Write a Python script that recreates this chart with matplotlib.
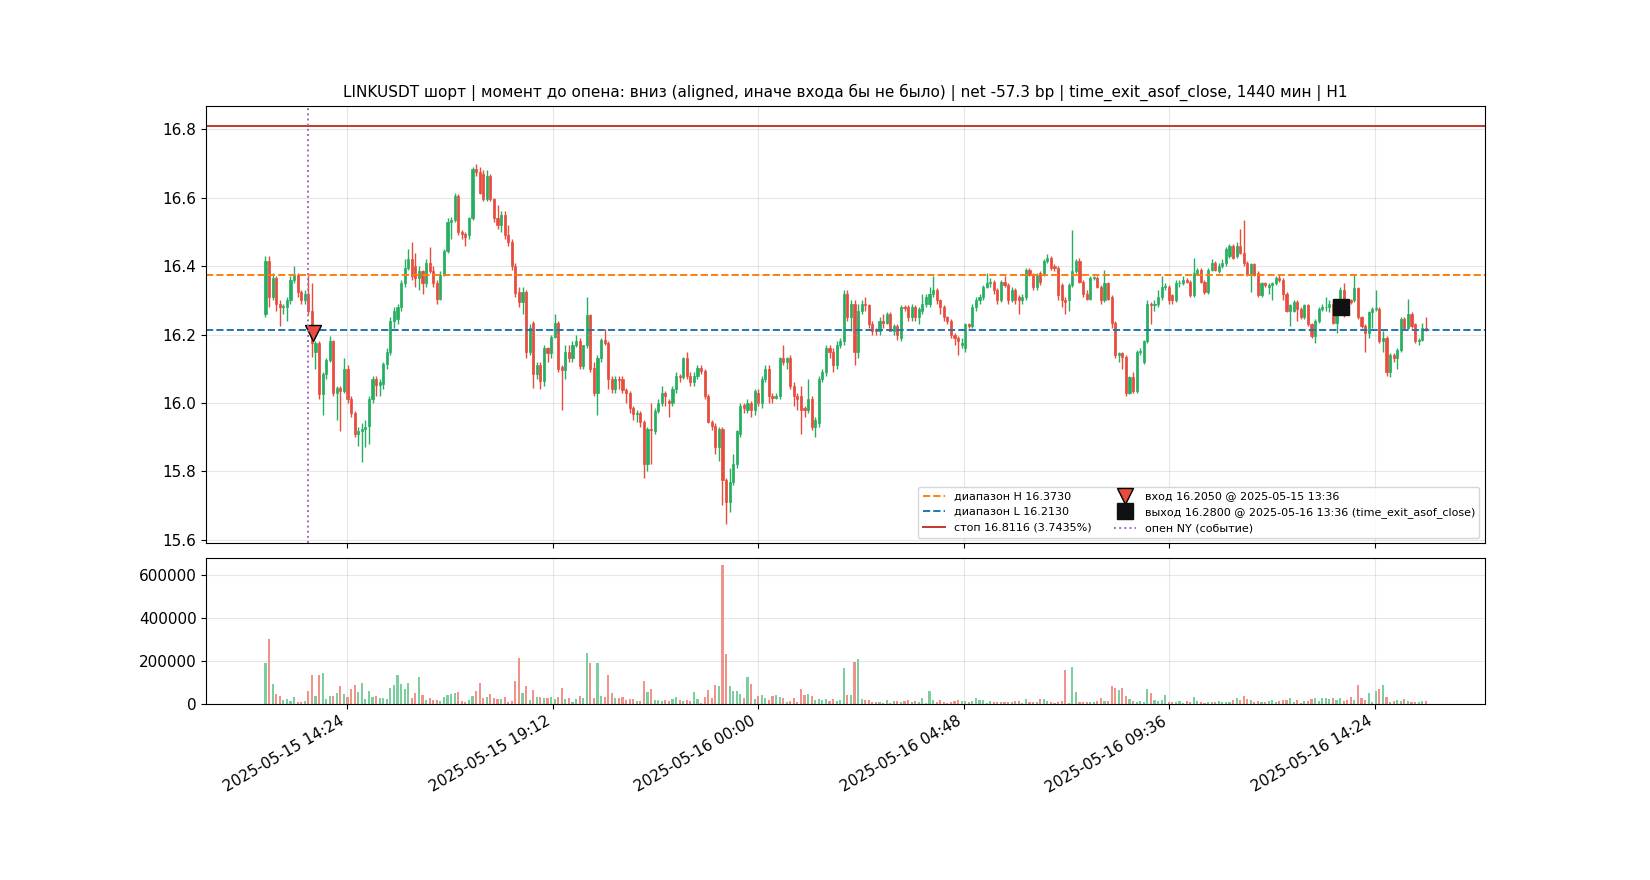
import matplotlib
matplotlib.use("Agg")
import matplotlib.pyplot as plt
import matplotlib.dates as mdates
import numpy as np
import pandas as pd

plt.rcParams["font.size"] = 11

# 5-минутные свечи LINKUSDT, 2025-05-15 12:30 ... 2025-05-16 15:35 (по 12 свечей в строке = 1 час)
OPEN = """
16.26 16.415 16.31 16.365 16.29 16.28 16.28 16.30 16.36 16.375 16.325 16.30
16.32 16.27 16.15 16.175 16.025 16.085 16.125 16.18 16.03 16.045 16.035 16.10
16.01 15.97 15.91 15.917 15.925 15.932 16.012 16.07 16.053 16.054 16.115 16.15
16.24 16.245 16.28 16.35 16.395 16.42 16.40 16.365 16.385 16.35 16.41 16.385
16.35 16.305 16.375 16.445 16.53 16.535 16.605 16.50 16.495 16.49 16.54 16.685
16.675 16.67 16.597 16.665 16.597 16.54 16.52 16.55 16.49 16.47 16.40 16.325
16.295 16.325 16.15 16.235 16.085 16.11 16.065 16.16 16.145 16.193 16.235 16.105
16.095 16.15 16.13 16.17 16.18 16.108 16.168 16.258 16.103 16.03 16.132 16.185
16.176 16.07 16.042 16.07 16.07 16.037 16.03 15.986 15.967 15.97 15.943 15.82
15.925 15.918 15.977 16.0 16.028 16.005 16.0 16.04 16.08 16.075 16.13 16.08
16.06 16.08 16.103 16.093 16.02 15.945 15.933 15.87 15.923 15.773 15.71 15.768
15.82 15.91 15.995 15.98 16.0 15.98 16.03 16.0 16.07 16.10 16.02 16.015
16.02 16.13 16.12 16.13 16.05 16.02 16.02 15.985 15.98 16.01 15.93 15.94
16.07 16.09 16.16 16.15 16.11 16.17 16.18 16.32 16.25 16.29 16.15 16.27
16.29 16.285 16.23 16.215 16.21 16.24 16.235 16.26 16.21 16.225 16.19 16.28
16.28 16.25 16.28 16.25 16.27 16.29 16.29 16.32 16.33 16.30 16.28 16.25
16.24 16.20 16.19 16.17 16.16 16.23 16.225 16.28 16.30 16.31 16.34 16.35
16.355 16.33 16.30 16.355 16.345 16.30 16.33 16.31 16.30 16.31 16.39 16.375
16.34 16.38 16.375 16.415 16.425 16.40 16.395 16.345 16.30 16.30 16.345 16.385
16.415 16.355 16.32 16.305 16.365 16.365 16.34 16.30 16.35 16.31 16.235 16.14
16.145 16.135 16.03 16.075 16.035 16.15 16.12 16.18 16.29 16.285 16.29 16.31
16.34 16.34 16.315 16.30 16.35 16.35 16.36 16.355 16.315 16.38 16.39 16.355
16.325 16.39 16.41 16.385 16.40 16.41 16.43 16.46 16.43 16.46 16.44 16.41
16.375 16.405 16.38 16.315 16.35 16.34 16.345 16.35 16.365 16.36 16.32 16.27
16.27 16.295 16.275 16.25 16.285 16.23 16.195 16.24 16.275 16.28 16.282 16.29
16.235 16.28 16.33 16.30 16.30 16.30 16.335 16.25 16.225 16.205 16.265 16.275
16.275 16.18 16.19 16.09 16.14 16.13 16.155 16.245 16.22 16.26 16.23 16.18
16.185 16.22
"""
CLOSE = """
16.415 16.31 16.365 16.29 16.28 16.283 16.30 16.36 16.375 16.325 16.30 16.32
16.27 16.175 16.175 16.025 16.085 16.125 16.18 16.03 16.045 16.035 16.10 16.01
15.97 15.91 15.917 15.925 15.93 16.012 16.07 16.053 16.06 16.115 16.15 16.24
16.27 16.28 16.35 16.395 16.42 16.37 16.365 16.385 16.35 16.41 16.385 16.35
16.305 16.375 16.445 16.53 16.535 16.605 16.50 16.495 16.485 16.54 16.685 16.675
16.615 16.597 16.665 16.597 16.54 16.52 16.55 16.49 16.47 16.40 16.323 16.295
16.325 16.15 16.22 16.085 16.11 16.065 16.16 16.145 16.193 16.235 16.10 16.095
16.15 16.13 16.17 16.18 16.108 16.168 16.258 16.10 16.03 16.132 16.185 16.176
16.07 16.042 16.07 16.066 16.037 16.03 15.986 15.967 15.97 15.943 15.82 15.925
15.92 15.977 16.0 16.028 16.02 16.0 16.04 16.08 16.075 16.13 16.08 16.06
16.08 16.103 16.093 16.02 15.945 15.933 15.87 15.923 15.773 15.71 15.768 15.82
15.918 15.99 15.985 16.0 15.98 16.035 16.0 16.07 16.10 16.02 16.015 16.02
16.13 16.12 16.13 16.05 16.02 16.01 15.98 15.98 16.01 15.93 15.95 16.07
16.09 16.16 16.15 16.11 16.17 16.18 16.32 16.25 16.29 16.15 16.27 16.29
16.285 16.23 16.21 16.21 16.24 16.235 16.26 16.21 16.225 16.20 16.28 16.277
16.25 16.28 16.25 16.275 16.29 16.31 16.32 16.33 16.30 16.28 16.25 16.24
16.20 16.19 16.18 16.175 16.23 16.225 16.28 16.30 16.31 16.34 16.35 16.355
16.33 16.30 16.355 16.345 16.30 16.33 16.30 16.30 16.31 16.39 16.375 16.34
16.375 16.355 16.415 16.425 16.395 16.395 16.315 16.30 16.295 16.345 16.385 16.415
16.355 16.32 16.305 16.365 16.367 16.34 16.30 16.35 16.305 16.235 16.14 16.145
16.135 16.03 16.075 16.035 16.15 16.152 16.18 16.29 16.285 16.29 16.31 16.34
16.342 16.30 16.30 16.35 16.352 16.36 16.355 16.315 16.38 16.39 16.355 16.325
16.39 16.41 16.39 16.40 16.41 16.45 16.46 16.425 16.46 16.44 16.41 16.375
16.405 16.375 16.315 16.35 16.345 16.345 16.35 16.365 16.36 16.32 16.27 16.285
16.295 16.275 16.25 16.285 16.23 16.195 16.24 16.275 16.28 16.282 16.29 16.235
16.28 16.33 16.30 16.295 16.295 16.335 16.25 16.225 16.205 16.265 16.275 16.277
16.18 16.19 16.09 16.14 16.13 16.155 16.245 16.22 16.26 16.225 16.18 16.185
16.22 16.215
"""
HIGH = """
16.43 16.43 16.38 16.37 16.30 16.29 16.31 16.37 16.40 16.38 16.33 16.33
16.375 16.35 16.18 16.18 16.09 16.13 16.195 16.185 16.05 16.05 16.13 16.11
16.02 15.975 15.93 15.94 15.95 16.02 16.08 16.08 16.07 16.12 16.16 16.25
16.28 16.29 16.36 16.42 16.45 16.47 16.44 16.40 16.39 16.42 16.455 16.40
16.36 16.385 16.45 16.54 16.545 16.615 16.61 16.505 16.50 16.545 16.69 16.70
16.69 16.68 16.68 16.67 16.60 16.58 16.56 16.56 16.52 16.48 16.41 16.34
16.34 16.33 16.23 16.24 16.12 16.12 16.17 16.165 16.20 16.26 16.24 16.11
16.17 16.17 16.18 16.20 16.19 16.17 16.31 16.26 16.12 16.14 16.19 16.215
16.18 16.08 16.08 16.08 16.08 16.045 16.035 15.99 15.98 15.975 15.95 15.93
16.0 15.985 16.01 16.05 16.035 16.01 16.05 16.09 16.085 16.135 16.15 16.09
16.09 16.11 16.11 16.10 16.025 15.95 15.94 15.93 15.93 15.78 15.81 15.85
15.92 16.0 16.0 16.01 16.005 16.04 16.04 16.08 16.11 16.11 16.03 16.03
16.135 16.17 16.135 16.14 16.06 16.03 16.05 15.99 16.07 16.02 15.96 16.08
16.10 16.17 16.17 16.16 16.18 16.19 16.33 16.33 16.30 16.30 16.29 16.30
16.31 16.29 16.24 16.22 16.25 16.26 16.265 16.265 16.23 16.23 16.285 16.285
16.285 16.29 16.285 16.28 16.32 16.32 16.34 16.37 16.335 16.305 16.285 16.255
16.245 16.205 16.195 16.19 16.235 16.235 16.29 16.31 16.32 16.345 16.38 16.365
16.36 16.335 16.36 16.37 16.35 16.34 16.335 16.315 16.32 16.395 16.395 16.38
16.38 16.385 16.42 16.435 16.43 16.405 16.40 16.35 16.31 16.35 16.505 16.42
16.425 16.36 16.33 16.37 16.37 16.37 16.345 16.39 16.355 16.315 16.24 16.15
16.15 16.14 16.08 16.09 16.155 16.16 16.185 16.30 16.295 16.30 16.33 16.37
16.35 16.345 16.32 16.36 16.36 16.37 16.365 16.36 16.425 16.395 16.395 16.36
16.395 16.42 16.415 16.41 16.42 16.455 16.465 16.465 16.47 16.51 16.535 16.415
16.41 16.41 16.385 16.355 16.355 16.35 16.355 16.37 16.375 16.365 16.325 16.29
16.30 16.30 16.28 16.29 16.29 16.235 16.245 16.28 16.29 16.31 16.30 16.30
16.285 16.34 16.35 16.305 16.305 16.377 16.34 16.255 16.23 16.27 16.28 16.33
16.28 16.21 16.195 16.145 16.145 16.16 16.25 16.25 16.305 16.265 16.235 16.19
16.235 16.25
"""
LOW = """
16.25 16.28 16.30 16.27 16.225 16.26 16.24 16.29 16.35 16.31 16.29 16.29
16.26 16.135 16.10 16.01 15.965 16.07 16.12 16.02 15.95 15.917 16.03 16.0
15.96 15.90 15.873 15.826 15.87 15.88 16.0 16.02 16.02 16.04 16.10 16.14
16.22 16.23 16.27 16.34 16.39 16.36 16.34 16.33 16.32 16.34 16.38 16.34
16.29 16.30 16.37 16.44 16.48 16.53 16.49 16.48 16.46 16.48 16.535 16.665
16.61 16.59 16.59 16.59 16.53 16.51 16.50 16.48 16.46 16.39 16.31 16.28
16.26 16.13 16.14 16.045 16.07 16.04 16.05 16.12 16.13 16.19 16.09 15.98
16.07 16.12 16.12 16.165 16.10 16.10 16.16 16.09 16.02 15.964 16.12 16.17
16.04 16.03 16.03 16.04 16.03 16.0 15.97 15.95 15.945 15.93 15.78 15.80
15.82 15.91 15.97 15.99 15.99 15.96 15.99 16.03 16.06 16.07 16.07 16.05
16.05 16.07 16.085 16.01 15.94 15.92 15.85 15.83 15.70 15.647 15.68 15.76
15.81 15.90 15.97 15.97 15.96 15.965 15.99 15.985 16.06 16.0 16.0 16.01
16.01 16.11 16.10 16.04 15.99 15.98 15.91 15.96 15.97 15.92 15.90 15.93
16.06 16.08 16.13 16.09 16.10 16.16 16.17 16.24 16.21 16.11 16.13 16.26
16.27 16.22 16.20 16.20 16.20 16.22 16.23 16.21 16.20 16.185 16.18 16.27
16.24 16.24 16.24 16.23 16.26 16.28 16.28 16.31 16.29 16.26 16.24 16.23
16.19 16.17 16.14 16.16 16.15 16.22 16.22 16.27 16.29 16.30 16.335 16.34
16.32 16.29 16.295 16.34 16.29 16.295 16.29 16.26 16.29 16.30 16.37 16.33
16.33 16.345 16.37 16.41 16.39 16.385 16.30 16.28 16.26 16.27 16.34 16.38
16.35 16.31 16.30 16.30 16.36 16.335 16.29 16.295 16.30 16.22 16.13 16.12
16.10 16.02 16.025 16.03 16.03 16.14 16.115 16.175 16.23 16.27 16.28 16.30
16.33 16.29 16.29 16.295 16.34 16.345 16.35 16.31 16.31 16.375 16.35 16.32
16.32 16.385 16.385 16.38 16.395 16.40 16.425 16.42 16.425 16.435 16.40 16.37
16.325 16.37 16.31 16.31 16.34 16.32 16.30 16.345 16.355 16.30 16.265 16.225
16.265 16.24 16.245 16.245 16.225 16.19 16.175 16.235 16.27 16.27 16.265 16.23
16.205 16.275 16.25 16.29 16.29 16.295 16.245 16.22 16.15 16.19 16.22 16.27
16.175 16.15 16.08 16.075 16.12 16.10 16.15 16.215 16.215 16.22 16.175 16.17
16.18 16.21
"""
# объём, тыс.
VOLUME_K = """
192 304 93 46 37 19 23 14 33 11 11 14
60 135 37 135 144 23 37 37 51 84 46 33
70 88 56 98 23 60 33 37 28 28 23 74
88 135 93 70 98 28 51 126 42 19 28 19
19 14 33 42 46 51 56 14 9 19 37 60
98 28 33 46 28 23 23 33 9 14 107 214
51 84 19 65 33 33 28 28 33 23 33 74
23 28 9 23 37 28 237 191 28 191 37 33
135 51 28 28 33 19 23 23 14 14 107 56
70 19 19 14 19 14 23 33 19 14 19 14
56 23 5 33 65 28 88 84 647 233 84 60
60 46 28 126 93 23 37 42 28 19 37 42
33 28 9 14 28 9 70 42 47 37 19 23
19 23 14 23 14 19 168 42 42 196 210 23
19 19 9 9 9 5 19 5 14 14 9 14
19 9 14 9 28 5 61 19 9 19 9 5
9 14 19 14 14 9 14 28 19 19 5 14
9 9 9 9 9 9 14 14 5 23 9 9
9 23 23 14 9 5 9 14 159 3 173 56
9 9 9 9 9 14 28 14 14 84 75 65
75 37 23 14 9 14 9 70 51 19 14 19
42 9 9 9 14 5 14 9 33 14 9 5
9 9 9 14 9 9 9 19 28 19 37 23
19 9 14 9 9 14 19 9 14 19 19 28
9 19 5 14 14 23 28 14 28 28 23 28
19 28 14 19 33 19 89 28 19 51 9 61
70 89 33 9 14 19 14 23 14 9 9 9
14 14
"""

start = "2025-05-15 12:30"
range_h = 16.3730
range_l = 16.2130
stop = 16.8116
entry_time, entry_px = "2025-05-15 13:36", 16.2050
exit_time, exit_px = "2025-05-16 13:36", 16.2800
ny_open = "2025-05-15 13:30"

o = np.array(OPEN.split(), dtype=float)
c = np.array(CLOSE.split(), dtype=float)
h = np.array(HIGH.split(), dtype=float)
l = np.array(LOW.split(), dtype=float)
v = np.array(VOLUME_K.split(), dtype=float) * 1000

times = pd.date_range(start, periods=len(c), freq="5min")
x = mdates.date2num(times.to_pydatetime())
w = 0.6 * (5 / 1440)

up = c >= o
green, red = "#27ae60", "#e74c3c"
cols = np.where(up, green, red)

fig = plt.figure(figsize=(16.5, 8.8), dpi=100)
gs = fig.add_gridspec(2, 1, height_ratios=[3, 1], hspace=0.05)
ax = fig.add_subplot(gs[0])
axv = fig.add_subplot(gs[1], sharex=ax)

# свечи
ax.vlines(x, l, h, colors=cols, linewidth=1)
ax.bar(x, np.abs(c - o), bottom=np.minimum(o, c), width=w, color=cols,
       edgecolor=cols, linewidth=0.5)

ax.axhline(range_h, color="tab:orange", linestyle="--", linewidth=1.4,
           label=f"диапазон H {range_h:.4f}")
ax.axhline(range_l, color="tab:blue", linestyle="--", linewidth=1.4,
           label=f"диапазон L {range_l:.4f}")
ax.axhline(stop, color="#c0392b", linestyle="-", linewidth=1.4,
           label=f"стоп {stop:.4f} (3.7435%)")

ex = mdates.date2num(pd.Timestamp(entry_time).to_pydatetime())
xx = mdates.date2num(pd.Timestamp(exit_time).to_pydatetime())
ax.plot([ex], [entry_px], marker="v", markersize=12, color="#e74c3c",
        markeredgecolor="black", linestyle="none",
        label=f"вход {entry_px:.4f} @ {entry_time}")
ax.plot([xx], [exit_px], marker="s", markersize=11, color="#111111",
        linestyle="none",
        label=f"выход {exit_px:.4f} @ {exit_time} (time_exit_asof_close)")
ax.axvline(mdates.date2num(pd.Timestamp(ny_open).to_pydatetime()),
           color="#a569bd", linestyle=":", linewidth=1.4,
           label="опен NY (событие)")

ax.grid(alpha=0.3)
ax.legend(loc="lower right", fontsize=8, ncol=2)
ax.set_title("LINKUSDT шорт | момент до опена: вниз (aligned, иначе входа бы не было) | "
             "net -57.3 bp | time_exit_asof_close, 1440 мин | H1", fontsize=11)

# объём
axv.bar(x, v, width=w, color=cols, alpha=0.6)
axv.grid(alpha=0.3)
axv.xaxis.set_major_formatter(mdates.DateFormatter("%Y-%m-%d %H:%M"))

fig.autofmt_xdate()
fig.savefig("out.png", dpi=100)
